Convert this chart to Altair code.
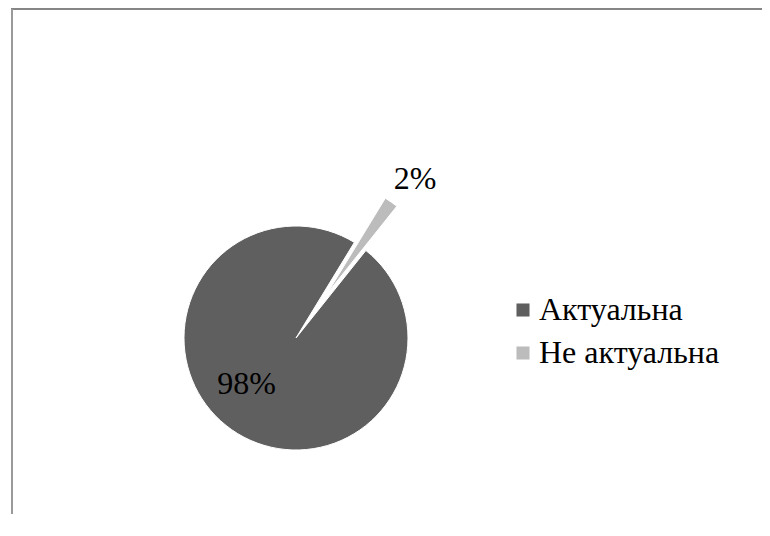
import altair as alt
import pandas as pd

categories = ["Актуальна", "Не актуальна"]
values = [98, 2]
labels = ["98%", "2%"]
stack_order = [1, 0]

colors = ["#5f5f5f", "#bcbcbc"]
FONT = "Liberation Serif"

W, H = 754, 506
CX, CY, R = 288, 330, 112
ROT_DEG = 31.4
EXPLODE = 54

df = pd.DataFrame({"cat": categories, "value": values, "label": labels, "ord": stack_order})

base = alt.Chart(df).transform_joinaggregate(
    total="sum(value)"
).transform_window(
    cum="sum(value)", sort=[alt.SortField("ord")], frame=[None, 0]
).transform_calculate(
    a1=f"{ROT_DEG}*PI/180 + 2*PI*datum.cum/datum.total",
).transform_calculate(
    a0="datum.a1 - 2*PI*datum.value/datum.total",
).transform_calculate(
    mid="(datum.a0 + datum.a1)/2",
    ex=f"datum.cat == 'Не актуальна' ? {EXPLODE} : 0",
).transform_calculate(
    px=f"{CX} + datum.ex*sin(datum.mid)",
    py=f"{CY} - datum.ex*cos(datum.mid)",
    lr=f"datum.ex > 0 ? {R} + datum.ex + 33 : {R}*0.6",
).transform_calculate(
    lx=f"{CX} + datum.lr*sin(datum.mid) - (datum.ex > 0 ? -5 : 11)",
    ly=f"{CY} - datum.lr*cos(datum.mid) - (datum.ex > 0 ? -4 : 9)",
)

arcs = base.mark_arc(radius=R, stroke="white", strokeWidth=1).encode(
    theta=alt.Theta("a0:Q", scale=None),
    theta2=alt.Theta2("a1:Q"),
    x=alt.X("px:Q", scale=None),
    y=alt.Y("py:Q", scale=None),
    color=alt.Color(
        "cat:N",
        scale=alt.Scale(domain=categories, range=colors),
        legend=alt.Legend(
            title=None,
            orient="none",
            legendX=499,
            legendY=286,
            symbolType="square",
            symbolSize=170,
            symbolStrokeWidth=0,
            labelFont=FONT,
            labelFontSize=32,
            labelColor="#000000",
            labelOffset=0,
            rowPadding=11,
            padding=0,
            labelLimit=400,
        ),
    ),
)

texts = base.mark_text(font=FONT, fontSize=32, color="#000000", align="center", baseline="middle").encode(
    x=alt.X("lx:Q", scale=None),
    y=alt.Y("ly:Q", scale=None),
    text="label:N",
)

frame_top = alt.Chart(df).mark_rule(color="#858585", strokeWidth=2).encode(
    x=alt.value(3), x2=alt.value(W), y=alt.value(1)
)
frame_left = alt.Chart(df).mark_rule(color="#9a9a9a", strokeWidth=2).encode(
    x=alt.value(4), y=alt.value(1), y2=alt.value(H)
)

chart = alt.layer(frame_top, frame_left, arcs, texts).properties(
    width=W, height=H, padding=0, background="white",
    autosize=alt.AutoSizeParams(type="none")
).configure_view(stroke="transparent", strokeWidth=0)

chart.save("out.html", embed_options={"renderer": "svg", "actions": False})
